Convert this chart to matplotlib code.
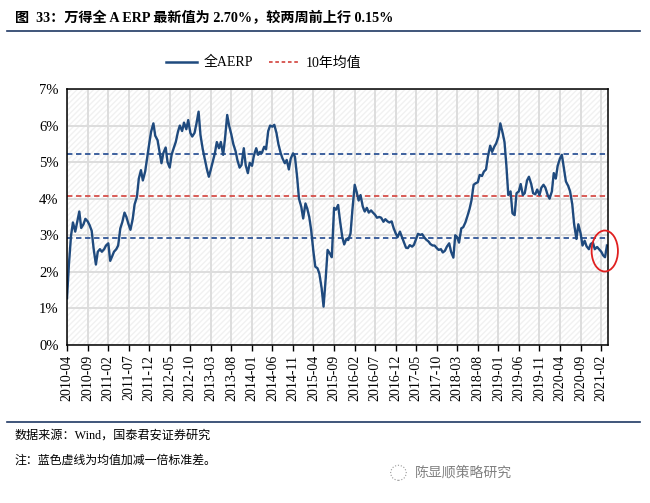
import numpy as np
import pandas as pd
import matplotlib
matplotlib.use('Agg')
import matplotlib.pyplot as plt
import matplotlib.dates as mdates
from matplotlib.patches import Rectangle, Ellipse
from matplotlib.lines import Line2D

# ERP values (%) at half-month steps from 2010-04
erp = [
    1.28, 2.20, 3.00, 3.35, 3.10, 3.35, 3.65, 3.20, 3.30, 3.45,
    3.38, 3.28, 3.12, 2.64, 2.20, 2.55, 2.62, 2.55, 2.62, 2.72,
    2.78, 2.30, 2.42, 2.55, 2.62, 2.72, 3.19, 3.35, 3.62, 3.50,
    3.30, 3.15, 3.45, 3.85, 4.05, 4.55, 4.78, 4.50, 4.74, 5.10,
    5.50, 5.83, 6.06, 5.72, 5.60, 5.30, 4.97, 5.25, 5.40, 5.00,
    4.85, 5.20, 5.40, 5.55, 5.83, 6.00, 5.85, 6.08, 5.90, 6.15,
    5.80, 5.70, 5.80, 6.05, 6.38, 5.74, 5.35, 5.10, 4.80, 4.60,
    4.79, 5.00, 5.25, 5.55, 5.38, 5.55, 5.20, 5.65, 6.29, 6.00,
    5.75, 5.50, 5.30, 5.05, 4.85, 4.92, 5.38, 4.92, 4.70, 4.98,
    4.90, 5.18, 5.38, 5.20, 5.28, 5.25, 5.42, 5.35, 5.85, 6.00,
    5.97, 6.02, 5.80, 5.50, 5.25, 5.10, 4.97, 5.06, 4.80, 5.10,
    5.24, 5.15, 4.60, 4.00, 3.78, 3.46, 3.87, 3.72, 3.50, 3.15,
    2.55, 2.14, 2.10, 1.95, 1.55, 1.05, 1.82, 2.60, 2.50, 2.40,
    3.75, 3.70, 3.83, 3.40, 2.95, 2.75, 2.90, 2.87, 3.05, 3.70,
    4.38, 4.19, 3.95, 4.10, 3.78, 3.65, 3.75, 3.62, 3.68, 3.62,
    3.56, 3.48, 3.50, 3.48, 3.37, 3.44, 3.38, 3.35, 3.38, 3.20,
    3.05, 2.95, 3.10, 2.96, 2.80, 2.66, 2.65, 2.73, 2.69, 2.74,
    2.90, 3.04, 3.01, 3.03, 2.94, 2.88, 2.83, 2.76, 2.72, 2.72,
    2.65, 2.60, 2.62, 2.53, 2.58, 2.69, 2.78, 2.55, 2.39, 3.00,
    2.95, 2.80, 3.19, 3.22, 3.35, 3.51, 3.72, 3.95, 4.38, 4.42,
    4.45, 4.65, 4.62, 4.74, 4.80, 5.15, 5.45, 5.28, 5.42, 5.51,
    5.70, 6.06, 5.80, 5.55, 4.90, 4.10, 4.20, 3.60, 3.55, 4.15,
    4.20, 4.40, 4.10, 4.15, 4.50, 4.60, 4.40, 4.15, 4.12, 4.25,
    4.10, 4.30, 4.38, 4.30, 4.10, 4.00, 4.20, 4.70, 4.55, 4.90,
    5.10, 5.20, 4.80, 4.47, 4.35, 4.20, 3.85, 3.30, 2.90, 3.30,
    3.05, 2.72, 2.85, 2.70, 2.62, 2.76, 2.80, 2.62, 2.68, 2.62,
    2.55, 2.45, 2.40, 2.72,
]
dates = pd.date_range('2010-04-01', periods=len(erp), freq='SMS')

mean_10y = 4.07
band_up = 5.22
band_low = 2.92

tick_dates = pd.date_range('2010-04-01', '2021-02-01', freq='5MS')

serif = ['Liberation Serif', 'Noto Sans CJK SC']
cjk = ['Noto Sans CJK SC', 'DejaVu Sans']
navy = '#1f4a7e'

fig = plt.figure(figsize=(6.5, 5.03), dpi=100)
ax = fig.add_axes([0.1031, 0.3141, 0.8323, 0.509])

# hatched background
ax.add_patch(Rectangle((0, 0), 1, 1, transform=ax.transAxes, facecolor='white',
                       edgecolor='#f1f1f1', hatch='//////', lw=0, zorder=0))

ax.plot(dates, erp, color=navy, lw=1.7, zorder=4)
ax.axhline(band_up, color='#2f5597', ls=(0, (3, 2)), lw=1.3, zorder=3)
ax.axhline(band_low, color='#2f5597', ls=(0, (3, 2)), lw=1.3, zorder=3)
ax.axhline(mean_10y, color='#d64f4a', ls=(0, (3, 2)), lw=1.3, zorder=3)

ax.set_xlim(dates[0], dates[-1] + pd.Timedelta(days=8))
ax.set_ylim(0, 7)
ax.set_yticks(range(0, 8))
ax.set_yticklabels([f'{v}%' for v in range(0, 8)], family=serif, fontsize=10.5)
ax.set_xticks(tick_dates)
ax.xaxis.set_major_formatter(mdates.DateFormatter('%Y-%m'))
for lab in ax.get_xticklabels():
    lab.set_rotation(90)
    lab.set_family(serif)
    lab.set_fontsize(10)
ax.tick_params(axis='y', length=0, pad=6)
ax.tick_params(axis='x', length=4, width=1, direction='out', pad=3)
ax.grid(True, color='#dddddd', lw=1.4, zorder=1)
ax.set_axisbelow(True)
for s in ax.spines.values():
    s.set_linewidth(1.1)
    s.set_zorder(5)

# red circle marking the latest reading
end_num = mdates.date2num(pd.Timestamp('2021-02-27'))
ax.add_patch(Ellipse((end_num, 2.57), width=195, height=1.12, fill=False,
                     edgecolor='#e02020', lw=1.3, clip_on=False, zorder=6))

# legend
handles = [Line2D([], [], color=navy, lw=1.8),
           Line2D([], [], color='#d64f4a', lw=1.3, ls=(0, (2, 1.5)))]
fig.legend(handles, ['全AERP', '10年均值'], loc='center', bbox_to_anchor=(0.406, 0.875),
           ncol=2, frameon=False, prop={'family': serif, 'size': 10},
           handlelength=2.2, columnspacing=1.1, handletextpad=0.5)

# title and rules
fig.text(0.023, 0.964, '图  33：万得全 A ERP 最新值为 2.70%，较两周前上行 0.15%',
         family=serif, fontsize=10.2, fontweight='bold', va='center', ha='left')
fig.add_artist(Line2D([0.011, 0.985], [0.938, 0.938], color='#1f3864', lw=1.2))
fig.add_artist(Line2D([0.011, 0.985], [0.161, 0.161], color='#1f3864', lw=1.2))

fig.text(0.023, 0.134, '数据来源：Wind，国泰君安证券研究', family=serif, fontsize=8.7,
         va='center', ha='left')
fig.text(0.023, 0.085, '注：蓝色虚线为均值加减一倍标准差。', family=cjk, fontsize=8.6,
         va='center', ha='left')
fig.add_artist(Ellipse((0.613, 0.06), 0.024, 0.03, fill=False, edgecolor='#999999',
                       lw=0.8, ls=':', transform=fig.transFigure))
fig.text(0.638, 0.06, '陈显顺策略研究', family=cjk, fontsize=10, color='#808080',
         va='center', ha='left')

fig.savefig('out.png', dpi=100)
